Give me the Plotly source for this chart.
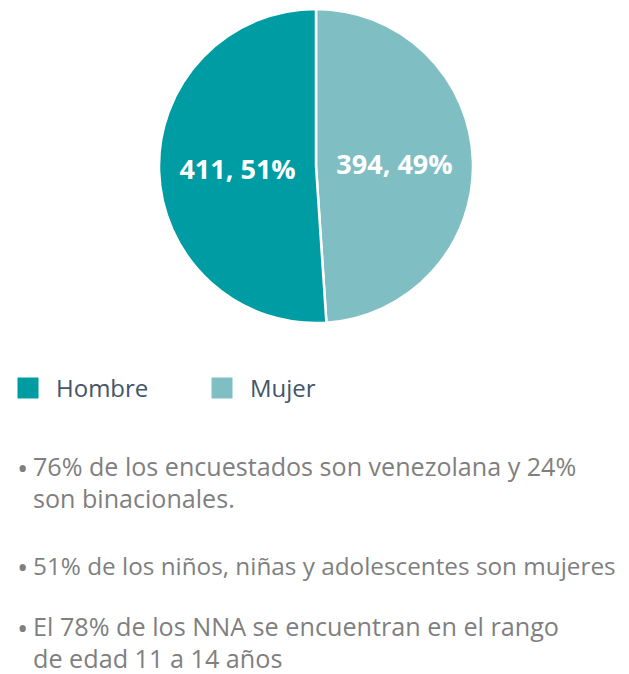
import plotly.graph_objects as go

# Data
categories = ["Hombre", "Mujer"]
values = [411, 394]
colors = ["#009CA3", "#7FBFC3"]
bullet_lines = [
    ["76% de los encuestados son venezolana y 24%", "son binacionales."],
    ["51% de los niños, niñas y adolescentes son mujeres"],
    ["El 78% de los NNA se encuentran en el rango", "de edad 11 a 14 años"],
]

W, H = 629, 674
cx, cy, r = 316, 166, 157

fig = go.Figure()
# Mujer drawn first clockwise from 12 o'clock so Hombre sits on the left
fig.add_trace(go.Pie(
    labels=categories[::-1],
    values=values[::-1],
    sort=False,
    direction="clockwise",
    rotation=0,
    marker=dict(colors=colors[::-1], line=dict(color="white", width=2.5)),
    texttemplate="%{value}, %{percent:.0%}",
    textposition="inside",
    insidetextorientation="horizontal",
    textfont=dict(family="Open Sans", size=27, color="white", weight="bold"),
    domain=dict(x=[(cx - r) / W, (cx + r) / W], y=[1 - (cy + r) / H, 1 - (cy - r) / H]),
    showlegend=False,
    hoverinfo="label+value+percent",
))

# legend entries (squares)
for name, col in zip(categories, colors):
    fig.add_trace(go.Scatter(
        x=[None], y=[None], mode="markers", name=name,
        marker=dict(symbol="square", size=16, color=col, line=dict(color=col, width=5)),
        showlegend=True,
    ))

bullet_y = [468, 567, 628]
bullet_size = [25.1, 24.3, 25.2]
line_gap = 31.5
for lines, by, fs in zip(bullet_lines, bullet_y, bullet_size):
    fig.add_annotation(
        x=15 / W, y=1 - (by - 1) / H, xref="paper", yref="paper",
        text="•", showarrow=False, xanchor="left", yanchor="middle",
        font=dict(family="Open Sans", size=30, color="#7F7F7F"),
    )
    for k, line in enumerate(lines):
        ly = by + k * line_gap - 2
        fig.add_annotation(
            x=32 / W, y=1 - ly / H, xref="paper", yref="paper",
            text=line, showarrow=False, xanchor="left", yanchor="middle", align="left",
            borderpad=0,
            font=dict(family="Open Sans", size=fs, color="#7F7F7F"),
        )

fig.update_layout(
    width=W, height=H,
    margin=dict(l=0, r=0, t=0, b=0),
    paper_bgcolor="white", plot_bgcolor="white",
    xaxis=dict(visible=False), yaxis=dict(visible=False),
    legend=dict(
        orientation="h", x=0, y=1 - 366 / H, xanchor="left", yanchor="top",
        font=dict(family="Open Sans", size=24, color="#44546A"),
        itemwidth=46, entrywidthmode="pixels", entrywidth=133,
        bgcolor="rgba(0,0,0,0)",
    ),
)

fig.write_html("out.html", config={"displayModeBar": False},
               post_script="document.body.style.margin='0';")
